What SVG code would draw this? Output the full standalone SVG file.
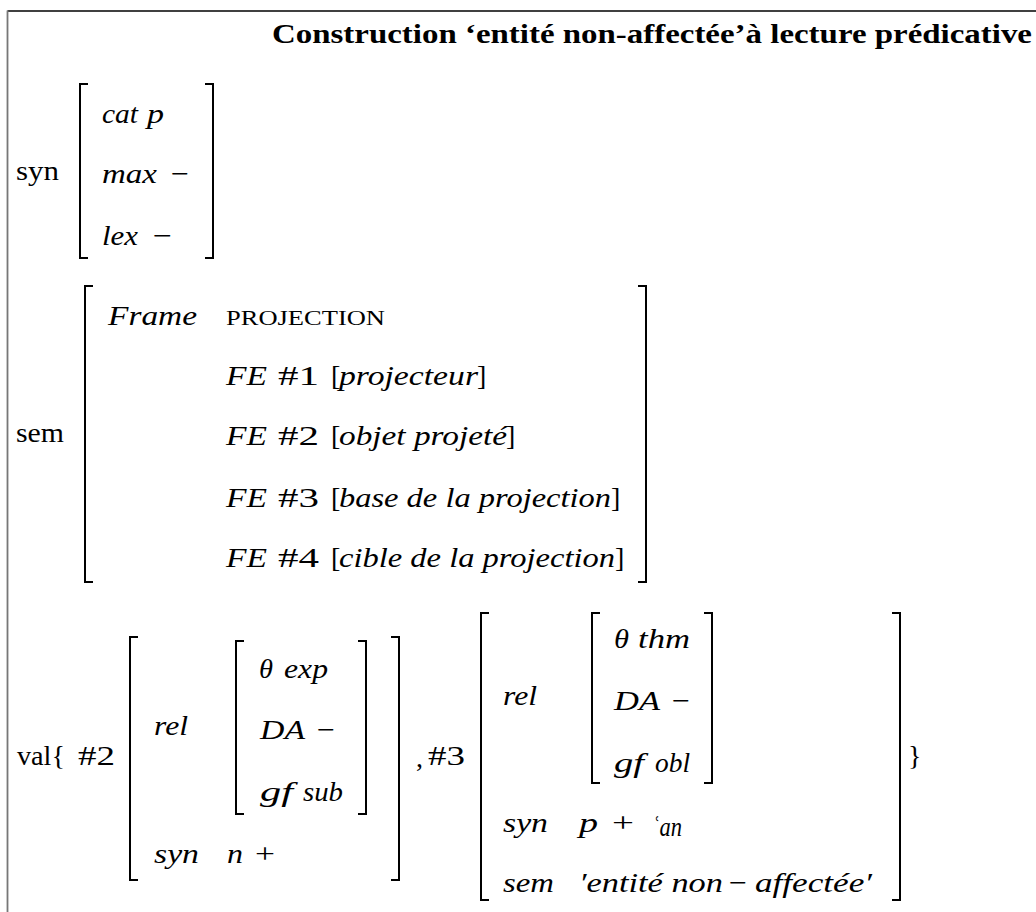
<svg xmlns="http://www.w3.org/2000/svg" width="1036" height="912" viewBox="0 0 1036 912">
<style>
.t{font-family:"Liberation Serif","DejaVu Serif",serif;font-size:28px;fill:#000}
.i{font-style:italic}
.b{font-weight:bold}
.sc{font-size:21px}
.br{fill:none;stroke:#000;stroke-width:2}
</style>
<rect width="1036" height="912" fill="#fff"/>
<g id="frame">
<line x1="7.5" y1="11" x2="1036" y2="11" stroke="#000" stroke-width="1.3"/>
<line x1="7.5" y1="10.5" x2="7.5" y2="912" stroke="#777" stroke-width="1.8"/>
</g>
<g id="title">
<text class="t b" x="272" y="43" font-size="27" textLength="760" lengthAdjust="spacingAndGlyphs">Construction ‘entité non-affectée’à lecture prédicative</text>
</g>
<g id="syn">
<text class="t" x="16" y="180" textLength="43" lengthAdjust="spacingAndGlyphs">syn</text>
<path class="br" d="M88,84 H80 V258 H88"/>
<path class="br" d="M205,84 H213 V258 H205"/>
<text class="t i" x="102" y="123" textLength="36" lengthAdjust="spacingAndGlyphs">cat</text>
<text class="t i" x="147" y="123" textLength="17" lengthAdjust="spacingAndGlyphs">p</text>
<text class="t i" x="102" y="183" textLength="55" lengthAdjust="spacingAndGlyphs">max</text>
<text class="t" x="171" y="183" textLength="18" lengthAdjust="spacingAndGlyphs">−</text>
<text class="t i" x="102" y="245" textLength="36" lengthAdjust="spacingAndGlyphs">lex</text>
<text class="t" x="153" y="245" textLength="19" lengthAdjust="spacingAndGlyphs">−</text>
</g>
<g id="sem">
<text class="t" x="16" y="442" textLength="48" lengthAdjust="spacingAndGlyphs">sem</text>
<path class="br" d="M93,286 H85 V582 H93"/>
<path class="br" d="M638,286 H646 V582 H638"/>
<text class="t i" x="108" y="325" textLength="89" lengthAdjust="spacingAndGlyphs">Frame</text>
<text class="t sc" x="226" y="325" textLength="159" lengthAdjust="spacingAndGlyphs">PROJECTION</text>
<text class="t i" x="226" y="385" textLength="41" lengthAdjust="spacingAndGlyphs">FE</text>
<text class="t" x="278" y="385" textLength="41" lengthAdjust="spacingAndGlyphs">#1</text>
<text class="t" x="331" y="385">[</text>
<text class="t i" x="339" y="385" textLength="139" lengthAdjust="spacingAndGlyphs">projecteur</text>
<text class="t" x="477" y="385">]</text>
<text class="t i" x="226" y="445" textLength="41" lengthAdjust="spacingAndGlyphs">FE</text>
<text class="t" x="278" y="445" textLength="41" lengthAdjust="spacingAndGlyphs">#2</text>
<text class="t" x="331" y="445">[</text>
<text class="t i" x="339" y="445" textLength="168" lengthAdjust="spacingAndGlyphs">objet projeté</text>
<text class="t" x="506" y="445">]</text>
<text class="t i" x="226" y="507" textLength="41" lengthAdjust="spacingAndGlyphs">FE</text>
<text class="t" x="278" y="507" textLength="41" lengthAdjust="spacingAndGlyphs">#3</text>
<text class="t" x="331" y="507">[</text>
<text class="t i" x="339" y="507" textLength="272" lengthAdjust="spacingAndGlyphs">base de la projection</text>
<text class="t" x="611" y="507">]</text>
<text class="t i" x="226" y="567" textLength="41" lengthAdjust="spacingAndGlyphs">FE</text>
<text class="t" x="278" y="567" textLength="41" lengthAdjust="spacingAndGlyphs">#4</text>
<text class="t" x="331" y="567">[</text>
<text class="t i" x="339" y="567" textLength="276" lengthAdjust="spacingAndGlyphs">cible de la projection</text>
<text class="t" x="615" y="567">]</text>
</g>
<g id="val">
<text class="t" x="17" y="765" textLength="48" lengthAdjust="spacingAndGlyphs">val{</text>
<text class="t" x="78" y="765" textLength="37" lengthAdjust="spacingAndGlyphs">#2</text>
<path class="br" d="M138,637 H130 V880 H138"/>
<path class="br" d="M391,637 H399 V880 H391"/>
<text class="t i" x="154" y="735" textLength="34" lengthAdjust="spacingAndGlyphs">rel</text>
<path class="br" d="M244,641 H236 V814 H244"/>
<path class="br" d="M358,641 H366 V814 H358"/>
<text class="t i" x="259" y="678" textLength="14" lengthAdjust="spacingAndGlyphs">θ</text>
<text class="t i" x="284" y="678" textLength="44" lengthAdjust="spacingAndGlyphs">exp</text>
<text class="t i" x="260" y="739" textLength="45" lengthAdjust="spacingAndGlyphs">DA</text>
<text class="t" x="317" y="739" textLength="18" lengthAdjust="spacingAndGlyphs">−</text>
<text class="t i" x="260" y="801" textLength="33" lengthAdjust="spacingAndGlyphs">gf</text>
<text class="t i" x="303" y="801" textLength="40" lengthAdjust="spacingAndGlyphs">sub</text>
<text class="t i" x="154" y="863" textLength="45" lengthAdjust="spacingAndGlyphs">syn</text>
<text class="t i" x="227" y="863" textLength="16" lengthAdjust="spacingAndGlyphs">n</text>
<text class="t" x="255" y="863" textLength="20" lengthAdjust="spacingAndGlyphs">+</text>
<text class="t" x="416" y="767">,</text>
<text class="t" x="428" y="765" textLength="37" lengthAdjust="spacingAndGlyphs">#3</text>
<path class="br" d="M489,613 H481 V900 H489"/>
<path class="br" d="M892,613 H900 V900 H892"/>
<text class="t i" x="503" y="705" textLength="34" lengthAdjust="spacingAndGlyphs">rel</text>
<path class="br" d="M600,613 H592 V783 H600"/>
<path class="br" d="M704,613 H712 V783 H704"/>
<text class="t i" x="614" y="648" textLength="15" lengthAdjust="spacingAndGlyphs">θ</text>
<text class="t i" x="638" y="648" textLength="52" lengthAdjust="spacingAndGlyphs">thm</text>
<text class="t i" x="614" y="710" textLength="46" lengthAdjust="spacingAndGlyphs">DA</text>
<text class="t" x="672" y="710" textLength="18" lengthAdjust="spacingAndGlyphs">−</text>
<text class="t i" x="614" y="772" textLength="30" lengthAdjust="spacingAndGlyphs">gf</text>
<text class="t i" x="655" y="772" textLength="35" lengthAdjust="spacingAndGlyphs">obl</text>
<text class="t i" x="503" y="832" textLength="45" lengthAdjust="spacingAndGlyphs">syn</text>
<text class="t i" x="579" y="832" textLength="19" lengthAdjust="spacingAndGlyphs">p</text>
<text class="t" x="612" y="832" textLength="22" lengthAdjust="spacingAndGlyphs">+</text>
<text class="t i" x="652" y="836" font-size="19" textLength="30" lengthAdjust="spacingAndGlyphs">ʿan</text>
<text class="t i" x="503" y="892" textLength="51" lengthAdjust="spacingAndGlyphs">sem</text>
<text class="t i" x="579" y="892" textLength="144" lengthAdjust="spacingAndGlyphs">′entité non</text>
<text class="t" x="729" y="892" textLength="18" lengthAdjust="spacingAndGlyphs">−</text>
<text class="t i" x="755" y="892" textLength="117" lengthAdjust="spacingAndGlyphs">affectée′</text>
<text class="t" x="908" y="765">}</text>
</g>
<g id="connectors"/>
</svg>
